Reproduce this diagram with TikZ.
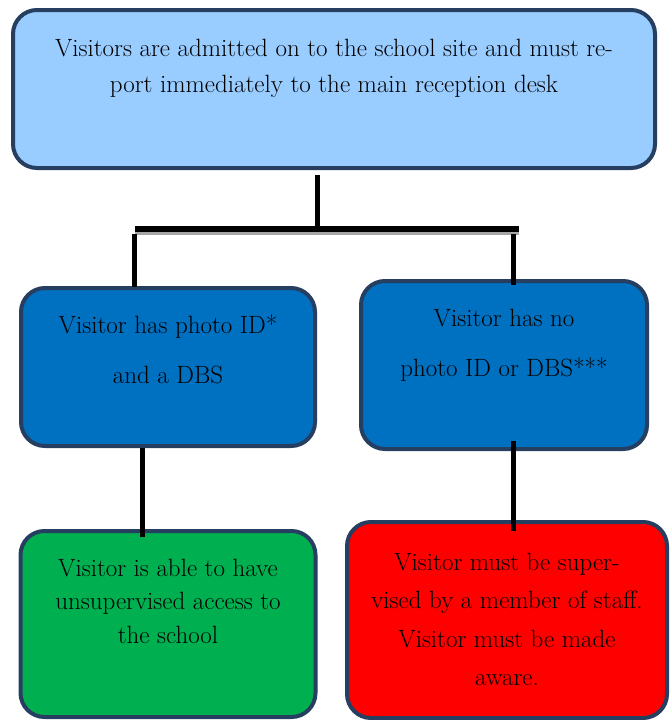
\documentclass[tikz,border=0pt]{standalone}
\usepackage{fontspec}

\definecolor{boxedge}{RGB}{38,62,96}
\definecolor{topblue}{RGB}{153,204,255}
\definecolor{midblue}{RGB}{0,112,192}
\definecolor{okgreen}{RGB}{0,176,80}
\definecolor{stopred}{RGB}{255,0,0}

% box text: width, height, first baseline, line spacing, text
\newcommand{\boxtext}[5]{\parbox[c][#2pt][t]{#1pt}{\centering
  \fontsize{25}{#4}\selectfont\rule{0pt}{#3pt}#5}}

\begin{document}
\begin{tikzpicture}[x=1pt, y=-1pt,
    box/.style={draw=boxedge, line width=4pt, rounded corners=24pt, inner sep=0pt},
    link/.style={line width=5pt}]
  \useasboundingbox (0,0) rectangle (670,720);

  \node[box, fill=topblue] (top) at (334,89)
    {\boxtext{642}{158}{46}{36}{Visitors are admitted on to the school site and must re-\\port immediately to the main reception desk}};
  \node[box, fill=midblue] (idyes) at (168,367)
    {\boxtext{294}{158}{45}{50}{Visitor has photo ID*\\and a DBS}};
  \node[box, fill=midblue] (idno) at (504,365)
    {\boxtext{286}{168}{45}{50}{Visitor has no\\photo ID or DBS***}};
  \node[box, fill=okgreen] (free) at (168,624)
    {\boxtext{295}{186}{45}{33.5}{Visitor is able to have\\unsupervised access to\\the school}};
  \node[box, fill=stopred] (watch) at (507,620)
    {\boxtext{320}{196}{48}{38.5}{Visitor must be super-\\vised by a member of staff.\\Visitor must be made\\aware.}};

  % split bar
  \coordinate (stem) at (317,229);
  \coordinate (barL) at (135,229);
  \coordinate (barR) at (519,229);
  \coordinate (dropL) at (134,232);
  \coordinate (dropR) at (513,232);
  \coordinate (downL) at (142,0);
  \coordinate (downR) at (513,0);

  \draw[link] ([yshift=-5pt]stem |- top.south) -- (stem);
  \draw[line width=3pt, black!35] ([yshift=-4pt]barL) -- ([yshift=-4pt]barR);
  \draw[line width=6pt] (barL) -- (barR);
  \draw[link] ([yshift=-2pt]dropL) -- ([yshift=-1pt]dropL |- idyes.north);
  \draw[link] ([yshift=-2pt]dropR) -- ([yshift=-6pt]dropR |- idno.north);

  \draw[link] (downL |- idyes.south) -- ([yshift=-8pt]downL |- free.north);
  \draw[link] ([yshift=10pt]downR |- idno.south) -- ([yshift=-11pt]downR |- watch.north);
\end{tikzpicture}
\end{document}
